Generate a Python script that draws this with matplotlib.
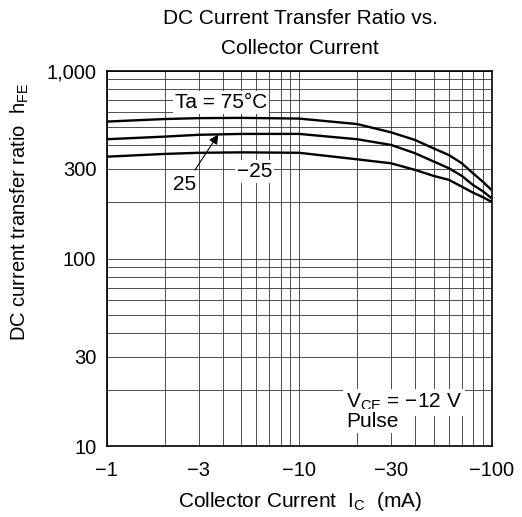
import matplotlib
matplotlib.use("Agg")
import matplotlib.pyplot as plt
from matplotlib.ticker import FixedLocator, NullFormatter

plt.rcParams['font.family'] = ['Liberation Sans', 'DejaVu Sans']

# Collector current magnitude |Ic| (mA)
ic = [1, 2, 3, 5, 10, 20, 30, 40, 50, 60, 70, 80, 90, 100]
hfe_75 = [535, 552, 558, 560, 555, 519, 469, 427, 385, 355, 321, 284, 256, 231]
hfe_25 = [431, 445, 455, 460, 460, 431, 402, 363, 328, 302, 275, 246, 228, 209]
hfe_m25 = [348, 360, 365, 367, 365, 337, 321, 296, 275, 262, 241, 224, 212, 200]

xticks = [1, 3, 10, 30, 100]
xticklabels = ["\u22121", "\u22123", "\u221210", "\u221230", "\u2212100"]
yticks = [10, 30, 100, 300, 1000]
yticklabels = ["10", "30", "100", "300", "1,000"]

FS = 15
FT = 14.5

fig = plt.figure(figsize=(5.22, 5.17), dpi=100)
ax = fig.add_axes([0.2044, 0.1364, 0.7375, 0.7272])
ax.set_xscale('log')
ax.set_yscale('log')
ax.set_xlim(1, 100)
ax.set_ylim(10, 1000)

# grid at every log subdivision
gx = [m * d for d in (1, 10) for m in range(1, 10)] + [100]
gy = [m * d for d in (10, 100) for m in range(1, 10)] + [1000]
ax.xaxis.set_minor_locator(FixedLocator(gx))
ax.yaxis.set_minor_locator(FixedLocator(gy))
ax.xaxis.set_minor_formatter(NullFormatter())
ax.yaxis.set_minor_formatter(NullFormatter())
ax.set_xticks(xticks)
ax.set_xticklabels(xticklabels)
ax.set_yticks(yticks)
ax.set_yticklabels(yticklabels)
ax.grid(True, which='both', color='#333333', linewidth=0.6)
ax.tick_params(which='both', length=0, labelsize=FT, colors='black')
ax.tick_params(axis='x', pad=10.5)
ax.tick_params(axis='y', pad=7.5)
for s in ax.spines.values():
    s.set_linewidth(1.2)
    s.set_color('black')

for h in (hfe_75, hfe_25, hfe_m25):
    ax.plot(ic, h, color='black', linewidth=1.7, solid_capstyle='butt', zorder=3)

box = dict(facecolor='white', edgecolor='none', pad=1.5)
ax.text(0.177, 0.900, "Ta = 75\u00b0C", transform=ax.transAxes, fontsize=FS,
        ha='left', va='baseline', bbox=box, zorder=4)
ax.text(0.201, 0.682, "25", transform=ax.transAxes, fontsize=FS,
        ha='center', va='baseline', bbox=box, zorder=4)
ax.text(0.338, 0.716, "\u221225", transform=ax.transAxes, fontsize=FS,
        ha='left', va='baseline', bbox=box, zorder=4)
ax.annotate("", xy=(0.290, 0.830), xytext=(0.229, 0.735), xycoords='axes fraction',
            arrowprops=dict(arrowstyle='-|>', color='black', lw=0.8,
                            mutation_scale=14, shrinkA=0, shrinkB=0), zorder=5)
ax.text(0.622, 0.104, "V$_{\\mathregular{CE}}$ = \u221212 V", transform=ax.transAxes,
        fontsize=FS, ha='left', va='baseline',
        bbox=dict(facecolor='white', edgecolor='none', pad=2), zorder=4)
ax.text(0.622, 0.053, "Pulse", transform=ax.transAxes,
        fontsize=FS, ha='left', va='baseline',
        bbox=dict(facecolor='white', edgecolor='none', pad=2), zorder=4)

fig.text(0.5747, 1 - 24 / 517, "DC Current Transfer Ratio vs.", ha='center', va='baseline', fontsize=FS)
fig.text(0.5747, 1 - 54.3 / 517, "Collector Current", ha='center', va='baseline', fontsize=FS)
fig.text(26 / 522, 1 - 212 / 517, "DC current transfer ratio  h$_{\\mathregular{FE}}$",
         rotation=90, rotation_mode='anchor', ha='center', va='baseline', fontsize=FT)
fig.text(0.5738, 1 - 506.7 / 517, "Collector Current  I$_{\\mathregular{C}}$  (mA)",
         ha='center', va='baseline', fontsize=FS)

fig.savefig("out.png", dpi=100)
